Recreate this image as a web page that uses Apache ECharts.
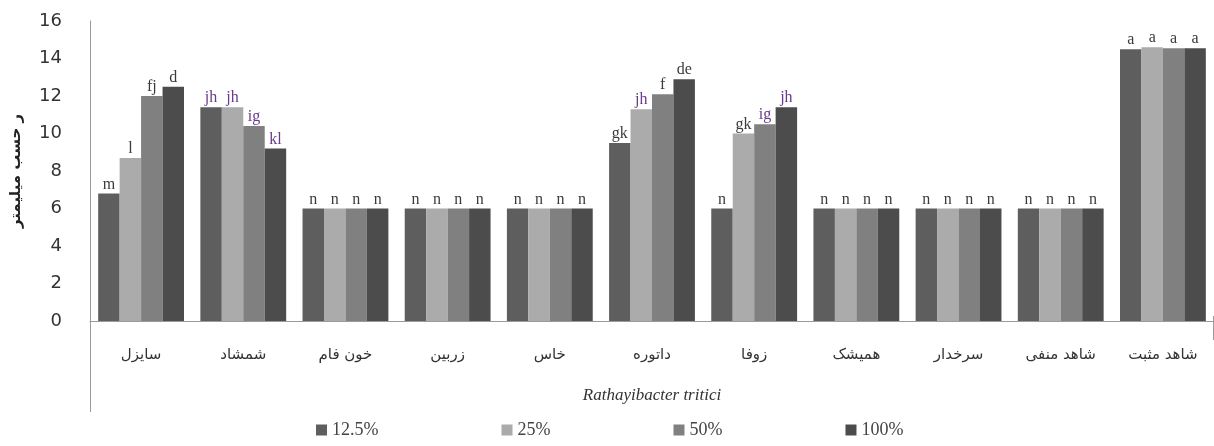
<!DOCTYPE html>
<html>
<head>
<meta charset="utf-8">
<script src="https://cdn.jsdelivr.net/npm/echarts@6/dist/echarts.min.js"></script>
<style>
  html, body { margin: 0; padding: 0; background: #fff; }
  #chart { width: 1214px; height: 446px; }
</style>
</head>
<body>
<div id="chart"></div>
<script>
// Plant extracts tested against Rathayibacter tritici
const categories = ['سایزل', 'شمشاد', 'خون فام', 'زربین', 'خاس', 'داتوره', 'زوفا', 'همیشک', 'سرخدار', 'شاهد منفی', 'شاهد مثبت'];
const seriesNames = ['12.5%', '25%', '50%', '100%'];

// Inhibition zone (mm) per concentration
const conc125 = [6.8, 11.4, 6, 6, 6, 9.5, 6, 6, 6, 6, 14.5];
const conc25  = [8.7, 11.4, 6, 6, 6, 11.3, 10.0, 6, 6, 6, 14.6];
const conc50  = [12.0, 10.4, 6, 6, 6, 12.1, 10.5, 6, 6, 6, 14.55];
const conc100 = [12.5, 9.2, 6, 6, 6, 12.9, 11.4, 6, 6, 6, 14.55];

// Mean-separation letters shown above each bar
const letters125 = ['m', 'jh', 'n', 'n', 'n', 'gk', 'n', 'n', 'n', 'n', 'a'];
const letters25  = ['l', 'jh', 'n', 'n', 'n', 'jh', 'gk', 'n', 'n', 'n', 'a'];
const letters50  = ['fj', 'ig', 'n', 'n', 'n', 'f', 'ig', 'n', 'n', 'n', 'a'];
const letters100 = ['d', 'kl', 'n', 'n', 'n', 'de', 'jh', 'n', 'n', 'n', 'a'];

const yTicks = { min: 0, max: 16, interval: 2 };

const barColors = ['#5e5e5e', '#ababab', '#808080', '#4c4c4c'];
const purpleLetters = ['jh', 'ig', 'kl'];

const valueSets = [conc125, conc25, conc50, conc100];
const letterSets = [letters125, letters25, letters50, letters100];

const chart = echarts.init(document.getElementById('chart'), null, { renderer: 'canvas' });

const series = seriesNames.map((name, s) => ({
  name: name,
  type: 'bar',
  barGap: '0%',
  barCategoryGap: '16%',
  itemStyle: { color: barColors[s] },
  data: valueSets[s].map((v, i) => ({
    value: v,
    label: {
      show: true,
      position: 'top',
      distance: 1,
      formatter: letterSets[s][i],
      fontFamily: 'Liberation Serif',
      fontSize: 16,
      color: purpleLetters.indexOf(letterSets[s][i]) >= 0 ? '#6a3a8c' : '#3a3a3a'
    }
  }))
}));

chart.setOption({
  animation: false,
  backgroundColor: '#ffffff',
  grid: { left: 90, right: 0, top: 21, bottom: 125, containLabel: false, outerBoundsMode: 'none' },
  legend: {
    data: seriesNames,
    bottom: 2,
    left: 311,
    itemWidth: 11,
    itemHeight: 11,
    itemGap: 123,
    icon: 'rect',
    textStyle: { fontFamily: 'Liberation Serif', fontSize: 18, color: '#444' }
  },
  xAxis: {
    type: 'category',
    data: categories,
    name: 'Rathayibacter tritici',
    nameLocation: 'middle',
    nameGap: 66,
    nameTextStyle: { fontFamily: 'Liberation Serif', fontStyle: 'italic', fontSize: 17, color: '#333' },
    axisLine: { lineStyle: { color: '#9a9a9a', width: 1 } },
    axisTick: { show: false },
    axisLabel: { fontFamily: 'DejaVu Sans', fontSize: 15, color: '#333', margin: 27 }
  },
  yAxis: {
    type: 'value',
    min: yTicks.min,
    max: yTicks.max,
    interval: yTicks.interval,
    name: 'ر حسب میلیمتر',
    nameLocation: 'middle',
    nameGap: 66,
    nameRotate: 90,
    nameTextStyle: { fontFamily: 'DejaVu Sans', fontWeight: 'bold', fontSize: 15, color: '#222' },
    axisLine: { show: true, lineStyle: { color: '#9a9a9a', width: 1 } },
    axisTick: { show: false },
    splitLine: { show: false },
    axisLabel: { fontFamily: 'DejaVu Sans', fontSize: 18, color: '#333', margin: 28 }
  },
  graphic: [
    // the left frame line continues below the plot down to the axis title
    { type: 'line', shape: { x1: 90.5, y1: 321, x2: 90.5, y2: 412 }, style: { stroke: '#9a9a9a', lineWidth: 1 } },
    { type: 'line', shape: { x1: 1213.5, y1: 316, x2: 1213.5, y2: 340 }, style: { stroke: '#9a9a9a', lineWidth: 1 } }
  ],
  series: series
});
</script>
</body>
</html>
